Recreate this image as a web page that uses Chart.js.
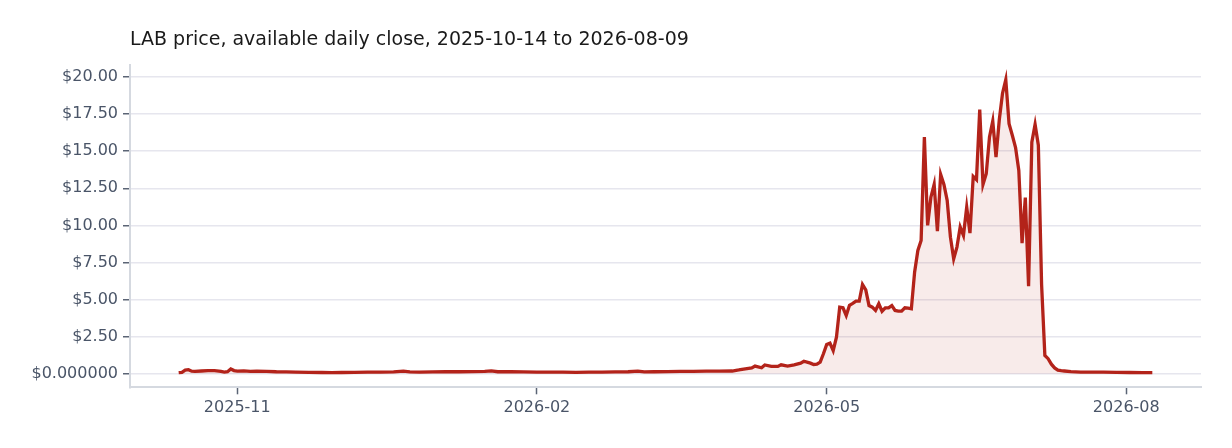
<!DOCTYPE html>
<html>
<head>
<meta charset="utf-8">
<title>LAB price</title>
<script src="https://cdn.jsdelivr.net/npm/chart.js@4.4.1/dist/chart.umd.min.js"></script>
<style>
  html, body { margin: 0; padding: 0; background: #fff; }
  #wrap { width: 1232px; height: 448px; }
</style>
</head>
<body>
<div id="wrap"><canvas id="myChart" width="1232" height="448"></canvas></div>
<script>
const dates = [
  '2025-10-14','2025-10-15','2025-10-16','2025-10-17','2025-10-18','2025-10-19','2025-10-21','2025-10-23',
  '2025-10-25','2025-10-27','2025-10-28','2025-10-29','2025-10-30','2025-10-31','2025-11-01','2025-11-03',
  '2025-11-05','2025-11-07','2025-11-10','2025-11-13','2025-11-16','2025-11-19','2025-11-23','2025-11-27',
  '2025-11-30','2025-12-03','2025-12-07','2025-12-11','2025-12-15','2025-12-19','2025-12-22','2025-12-24',
  '2025-12-27','2025-12-31','2026-01-04','2026-01-08','2026-01-12','2026-01-16','2026-01-18','2026-01-20',
  '2026-01-24','2026-01-28','2026-02-01','2026-02-05','2026-02-09','2026-02-13','2026-02-17','2026-02-21',
  '2026-02-25','2026-03-01','2026-03-04','2026-03-06','2026-03-09','2026-03-13','2026-03-17','2026-03-21',
  '2026-03-25','2026-03-29','2026-04-02','2026-04-04','2026-04-06','2026-04-08','2026-04-09','2026-04-11',
  '2026-04-12','2026-04-14','2026-04-16','2026-04-17','2026-04-19','2026-04-21','2026-04-23','2026-04-24',
  '2026-04-26','2026-04-27','2026-04-28','2026-04-29','2026-04-30','2026-05-01','2026-05-02','2026-05-03',
  '2026-05-04','2026-05-05','2026-05-06','2026-05-07','2026-05-08','2026-05-09','2026-05-10','2026-05-11',
  '2026-05-12','2026-05-13','2026-05-14','2026-05-15','2026-05-16','2026-05-17','2026-05-18','2026-05-19',
  '2026-05-20','2026-05-21','2026-05-22','2026-05-23','2026-05-24','2026-05-25','2026-05-26','2026-05-27',
  '2026-05-28','2026-05-29','2026-05-30','2026-05-31','2026-06-01','2026-06-02','2026-06-03','2026-06-04',
  '2026-06-05','2026-06-06','2026-06-07','2026-06-08','2026-06-09','2026-06-10','2026-06-11','2026-06-12',
  '2026-06-13','2026-06-14','2026-06-15','2026-06-16','2026-06-17','2026-06-18','2026-06-19','2026-06-20',
  '2026-06-21','2026-06-22','2026-06-23','2026-06-24','2026-06-25','2026-06-26','2026-06-27','2026-06-28',
  '2026-06-29','2026-06-30','2026-07-01','2026-07-02','2026-07-03','2026-07-04','2026-07-05','2026-07-06',
  '2026-07-07','2026-07-08','2026-07-09','2026-07-10','2026-07-11','2026-07-12','2026-07-13','2026-07-15',
  '2026-07-18','2026-07-21','2026-07-25','2026-07-29','2026-08-02','2026-08-06','2026-08-09'
];
const closes = [
  0.08, 0.10, 0.25, 0.28, 0.18, 0.17, 0.19, 0.21,
  0.22, 0.16, 0.12, 0.14, 0.33, 0.22, 0.18, 0.20,
  0.16, 0.18, 0.17, 0.14, 0.13, 0.12, 0.10, 0.09,
  0.08, 0.09, 0.10, 0.11, 0.12, 0.13, 0.18, 0.13,
  0.12, 0.13, 0.14, 0.14, 0.15, 0.16, 0.20, 0.14,
  0.14, 0.13, 0.12, 0.11, 0.11, 0.10, 0.11, 0.12,
  0.13, 0.14, 0.18, 0.13, 0.14, 0.15, 0.17, 0.17,
  0.18, 0.18, 0.19, 0.26, 0.34, 0.40, 0.52, 0.41,
  0.60, 0.50, 0.50, 0.61, 0.52, 0.61, 0.72, 0.85,
  0.72, 0.63, 0.65, 0.79, 1.35, 1.98, 2.07, 1.57,
  2.47, 4.49, 4.45, 3.93, 4.62, 4.75, 4.90, 4.90,
  6.02, 5.66, 4.60, 4.49, 4.27, 4.72, 4.22, 4.45,
  4.45, 4.60, 4.27, 4.22, 4.22, 4.45, 4.42, 4.38,
  6.85, 8.31, 8.99, 15.96, 10.00, 11.90, 12.76, 9.62,
  13.44, 12.76, 11.69, 9.21, 7.75, 8.54, 9.89, 9.33,
  11.24, 9.48, 13.30, 13.08, 17.80, 12.76, 13.48, 15.96,
  17.03, 14.60, 17.10, 18.90, 19.82, 16.85, 16.07, 15.24,
  13.70, 8.81, 11.87, 5.91, 15.60, 16.80, 15.40, 6.00,
  1.24, 1.02, 0.65, 0.40, 0.25, 0.21, 0.19, 0.15,
  0.12, 0.11, 0.12, 0.10, 0.09, 0.08, 0.08
];
const xTickDates = ['2025-11-01', '2026-02-01', '2026-05-01', '2026-08-01'];
const yTickValues = [0, 2.5, 5, 7.5, 10, 12.5, 15, 17.5, 20];
const chartTitle = 'LAB price, available daily close, 2025-10-14 to 2026-08-09';

const toTime = s => Date.parse(s + 'T00:00:00Z');
const points = dates.map((d, i) => ({ x: toTime(d), y: closes[i] }));

// 5% margins like the original plot
const xs = points.map(p => p.x), ys = points.map(p => p.y);
const xMin = Math.min(...xs), xMax = Math.max(...xs);
const yMin = Math.min(...ys), yMax = Math.max(...ys);
const xPad = (xMax - xMin) * 0.05, yPad = (yMax - yMin) * 0.05;

const FONT = '"DejaVu Sans", "Noto Sans", sans-serif';
const TICK_TEXT = '#4a5568';

const titlePlugin = {
  id: 'leftTitle',
  afterDraw(chart) {
    const c = chart.ctx;
    c.save();
    c.font = '19px ' + FONT;
    c.fillStyle = '#1a1a1a';
    c.textBaseline = 'middle';
    c.textAlign = 'left';
    c.fillText(chartTitle, chart.chartArea.left, 40);
    c.restore();
  }
};

new Chart(document.getElementById('myChart'), {
  type: 'line',
  data: {
    datasets: [{
      label: 'LAB close',
      data: points,
      borderColor: '#b3231a',
      backgroundColor: 'rgba(179, 35, 26, 0.09)',
      borderWidth: 3.3,
      fill: 'origin',
      pointRadius: 0,
      tension: 0
    }]
  },
  options: {
    responsive: false,
    animation: false,
    layout: { padding: { top: 65, right: 31, bottom: 0, left: 0 } },
    plugins: {
      legend: { display: false },
      tooltip: { enabled: false }
    },
    scales: {
      x: {
        type: 'linear',
        min: xMin - xPad,
        max: xMax + xPad,
        afterBuildTicks: scale => {
          scale.ticks = xTickDates.map(d => ({ value: toTime(d) }));
        },
        afterFit: scale => { scale.height = 60.7; },
        ticks: {
          color: TICK_TEXT,
          font: { family: FONT, size: 16 },
          padding: 4,
          maxRotation: 0,
          callback: v => new Date(v).toISOString().slice(0, 7)
        },
        grid: {
          drawOnChartArea: false,
          drawTicks: true,
          tickLength: 7,
          tickColor: '#5b6475',
          tickWidth: 1.5
        },
        border: { color: '#d5d9e0', width: 2 }
      },
      y: {
        min: yMin - yPad,
        max: yMax + yPad,
        afterBuildTicks: scale => {
          scale.ticks = yTickValues.map(v => ({ value: v }));
        },
        afterFit: scale => { scale.width = 130; },
        ticks: {
          color: TICK_TEXT,
          font: { family: FONT, size: 16 },
          padding: 5,
          callback: v => v === 0 ? '$0.000000' : '$' + v.toFixed(2)
        },
        grid: {
          color: '#e6e6ee',
          lineWidth: 1.5,
          tickLength: 7,
          tickColor: '#5b6475',
          tickWidth: 1.5
        },
        border: { color: '#d5d9e0', width: 2 }
      }
    }
  },
  plugins: [titlePlugin]
});
</script>
</body>
</html>
